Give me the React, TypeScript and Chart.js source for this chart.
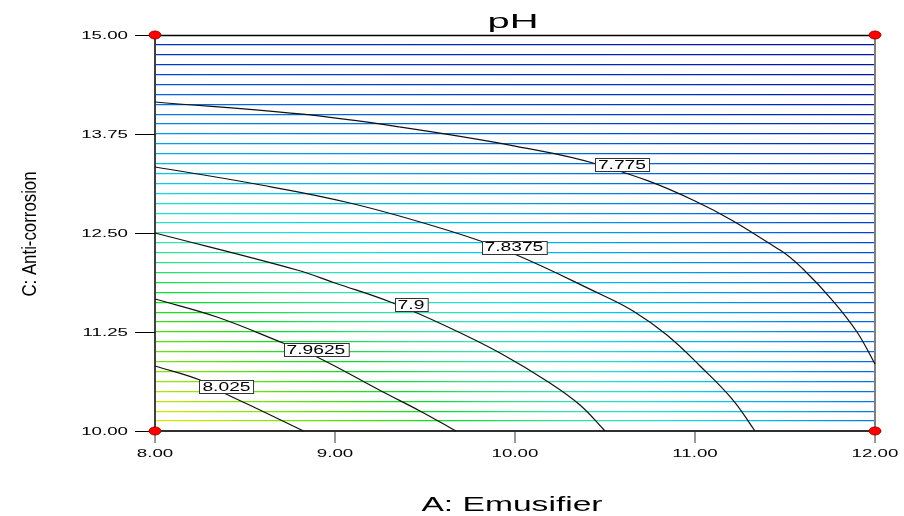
import React, { useEffect, useRef } from "react";
import { Chart, registerables } from "chart.js";

Chart.register(...registerables);

// ---- data ----
const xTicks = [8, 9, 10, 11, 12];
const yTicks = [10, 11.25, 12.5, 13.75, 15];

const contourLevels = [7.775, 7.8375, 7.9, 7.9625, 8.025];
const levelText = ["7.775", "7.8375", "7.9", "7.9625", "8.025"];

const c7775X = [8.0, 8.806, 9.361, 10.0, 10.472, 11.0, 11.472, 11.6, 11.767, 11.9, 12.0];
const c7775Y = [14.154, 14.003, 13.838, 13.598, 13.359, 12.904, 12.285, 12.045, 11.641, 11.25, 10.846];

const c78375X = [8.0, 8.528, 9.083, 9.639, 9.983, 10.472, 10.656, 10.844, 11.028, 11.211, 11.333];
const c78375Y = [13.333, 13.131, 12.879, 12.525, 12.247, 11.73, 11.515, 11.212, 10.821, 10.391, 10.0];

const c79X = [8.0, 8.789, 9.0, 9.322, 9.639, 9.917, 10.194, 10.361, 10.5];
const c79Y = [12.5, 12.033, 11.869, 11.616, 11.301, 10.985, 10.606, 10.328, 10.0];

const c79625X = [8.0, 8.344, 8.711, 8.9, 9.267, 9.472, 9.672];
const c79625Y = [11.667, 11.439, 11.111, 10.934, 10.492, 10.253, 10.0];

const c8025X = [8.0, 8.25, 8.372, 8.583, 8.825];
const c8025Y = [10.821, 10.644, 10.492, 10.265, 10.0];

const contourXs = [c7775X, c78375X, c79X, c79625X, c8025X];
const contourYs = [c7775Y, c78375Y, c79Y, c79625Y, c8025Y];

const labelX = [10.594, 9.994, 9.422, 8.894, 8.397];
const labelY = [13.359, 12.323, 11.591, 11.029, 10.562];

const designX = [8, 12, 8, 12];
const designY = [15, 15, 10, 10];

// colour ramp (pH -> rgb), styling only
const rampPH = [7.68, 7.74, 7.775, 7.8375, 7.87, 7.9, 7.93, 7.955, 7.99, 8.03, 8.07];
const rampRGB = [
  [0, 20, 170],
  [0, 60, 210],
  [0, 110, 230],
  [0, 195, 240],
  [20, 225, 220],
  [50, 228, 180],
  [40, 226, 120],
  [0, 225, 40],
  [60, 230, 0],
  [140, 230, 0],
  [220, 230, 0],
];

// ---- helpers ----
const norm = (x: number, y: number) => [(x - 8) / 4, (y - 10) / 5];

function rayHit(xs: number[], ys: number[], ang: number): number | null {
  const dx = Math.cos(ang), dy = Math.sin(ang);
  for (let i = 0; i < xs.length - 1; i++) {
    const [ax, ay] = norm(xs[i], ys[i]);
    const [bx, by] = norm(xs[i + 1], ys[i + 1]);
    const ex = bx - ax, ey = by - ay;
    const det = -dx * ey + ex * dy;
    if (Math.abs(det) < 1e-12) continue;
    const t = (-ax * ey + ex * ay) / det;
    const s = (dx * ay - dy * ax) / det;
    if (s >= -1e-9 && s <= 1 + 1e-9 && t > 0) return t;
  }
  return null;
}

function estimatePH(u: number, v: number): number {
  const r = Math.hypot(u, v);
  if (r < 1e-6) return 8.07;
  const ang = Math.atan2(v, u);
  const hits: { r: number; lv: number }[] = [];
  for (let k = 0; k < contourLevels.length; k++) {
    const h = rayHit(contourXs[k], contourYs[k], ang);
    if (h !== null) hits.push({ r: h, lv: contourLevels[k] });
  }
  hits.sort((a, b) => a.r - b.r);
  if (hits.length < 2) return 7.8;
  if (r <= hits[0].r) {
    const slope = (hits[0].lv - hits[1].lv) / (hits[1].r - hits[0].r);
    return hits[0].lv + (hits[0].r - r) * slope;
  }
  for (let i = 0; i < hits.length - 1; i++) {
    if (r <= hits[i + 1].r) {
      const f = (r - hits[i].r) / (hits[i + 1].r - hits[i].r);
      return hits[i].lv + f * (hits[i + 1].lv - hits[i].lv);
    }
  }
  const n = hits.length;
  const slope = (hits[n - 2].lv - hits[n - 1].lv) / (hits[n - 1].r - hits[n - 2].r);
  return hits[n - 1].lv - (r - hits[n - 1].r) * slope;
}

function colorFor(ph: number): string {
  if (ph <= rampPH[0]) return `rgb(${rampRGB[0].join(",")})`;
  const last = rampPH.length - 1;
  if (ph >= rampPH[last]) return `rgb(${rampRGB[last].join(",")})`;
  for (let i = 0; i < last; i++) {
    if (ph <= rampPH[i + 1]) {
      const f = (ph - rampPH[i]) / (rampPH[i + 1] - rampPH[i]);
      const c = rampRGB[i].map((a, j) => Math.round(a + f * (rampRGB[i + 1][j] - a)));
      return `rgb(${c.join(",")})`;
    }
  }
  return "#000";
}

function stretchText(
  ctx: CanvasRenderingContext2D,
  text: string,
  x: number,
  y: number,
  font: string,
  sx: number,
  align: "left" | "center" | "right",
  baseline: CanvasTextBaseline
) {
  ctx.save();
  ctx.font = font;
  ctx.fillStyle = "#000";
  ctx.textAlign = "left";
  ctx.textBaseline = baseline;
  const w = ctx.measureText(text).width * sx;
  const x0 = align === "center" ? x - w / 2 : align === "right" ? x - w : x;
  ctx.translate(x0, y);
  ctx.scale(sx, 1);
  ctx.fillText(text, 0, 0);
  ctx.restore();
}

function makeEllipse(): HTMLCanvasElement {
  const c = document.createElement("canvas");
  c.width = 14;
  c.height = 10;
  const g = c.getContext("2d")!;
  g.beginPath();
  g.ellipse(7, 5, 6, 4, 0, 0, Math.PI * 2);
  g.fillStyle = "#ff0000";
  g.fill();
  g.lineWidth = 1;
  g.strokeStyle = "#a00000";
  g.stroke();
  return c;
}

const FONT = '"Liberation Sans", Arial, sans-serif';

const decorPlugin = {
  id: "decor",
  beforeDatasetsDraw(chart: any) {
    const ctx: CanvasRenderingContext2D = chart.ctx;
    const xs = chart.scales.x, ys = chart.scales.y;
    const L = xs.getPixelForValue(8), R = xs.getPixelForValue(12);
    const T = ys.getPixelForValue(15), B = ys.getPixelForValue(10);
    ctx.save();
    ctx.strokeStyle = "#000";
    ctx.lineWidth = 1.5;
    ctx.beginPath();
    ctx.moveTo(L, T + 0.5);
    ctx.lineTo(R, T + 0.5);
    ctx.stroke();
    ctx.strokeStyle = "#808080";
    ctx.lineWidth = 2;
    ctx.beginPath();
    ctx.moveTo(R, T);
    ctx.lineTo(R, B);
    ctx.stroke();
    ctx.strokeStyle = "#404040";
    ctx.lineWidth = 2;
    ctx.beginPath();
    ctx.moveTo(L, T);
    ctx.lineTo(L, B + 1);
    ctx.stroke();
    ctx.strokeStyle = "#303030";
    ctx.lineWidth = 2;
    ctx.beginPath();
    ctx.moveTo(L, B);
    ctx.lineTo(R, B);
    ctx.stroke();
    ctx.strokeStyle = "#000";
    ctx.lineWidth = 1;
    for (const v of yTicks) {
      const py = Math.round(ys.getPixelForValue(v)) + 0.5;
      ctx.beginPath();
      ctx.moveTo(L - 20, py);
      ctx.lineTo(L, py);
      ctx.stroke();
      stretchText(ctx, v.toFixed(2), L - 27, py, `11px ${FONT}`, 1.7, "right", "middle");
    }
    ctx.strokeStyle = "#777";
    ctx.lineWidth = 1.5;
    for (const v of xTicks) {
      const px = xs.getPixelForValue(v);
      ctx.beginPath();
      ctx.moveTo(px, B + 1);
      ctx.lineTo(px, B + 12);
      ctx.stroke();
      stretchText(ctx, v.toFixed(2), px, B + 23, `11px ${FONT}`, 1.7, "center", "middle");
    }
    stretchText(ctx, "pH", (L + R) / 2 - 2, 28, `21px ${FONT}`, 1.9, "center", "alphabetic");
    stretchText(ctx, "A: Emusifier", 512, 511, `21px ${FONT}`, 1.6, "center", "alphabetic");
    ctx.save();
    ctx.translate(30, 234);
    ctx.rotate(-Math.PI / 2);
    stretchText(ctx, "C: Anti-corrosion", 0, 0, `20px ${FONT}`, 0.84, "center", "middle");
    ctx.restore();
    ctx.restore();
  },
  afterDatasetsDraw(chart: any) {
    const ctx: CanvasRenderingContext2D = chart.ctx;
    const xs = chart.scales.x, ys = chart.scales.y;
    ctx.save();
    const sx = 1.6;
    for (let i = 0; i < levelText.length; i++) {
      const cx = xs.getPixelForValue(labelX[i]);
      const cy = ys.getPixelForValue(labelY[i]);
      ctx.font = `12px ${FONT}`;
      const w = ctx.measureText(levelText[i]).width * sx + 6;
      const h = 13;
      const bx = Math.round(cx - w / 2) + 0.5;
      const by = Math.round(cy - h / 2) + 0.5;
      ctx.fillStyle = "#fff";
      ctx.fillRect(bx, by, w, h);
      ctx.strokeStyle = "#333";
      ctx.lineWidth = 1;
      ctx.strokeRect(bx, by, w, h);
      stretchText(ctx, levelText[i], cx, cy + 1, `12px ${FONT}`, sx, "center", "middle");
    }
    ctx.restore();
  },
};

export default function App() {
  const ref = useRef<HTMLCanvasElement | null>(null);
  useEffect(() => {
    if (!ref.current) return;
    const ellipse = makeEllipse();
    const gradCache = new Map<number, CanvasGradient>();

    const contourSets = contourLevels.map((lv, k) => ({
      type: "line" as const,
      label: levelText[k],
      data: contourXs[k].map((x, i) => ({ x, y: contourYs[k][i] })),
      borderColor: "#111",
      borderWidth: 1.2,
      pointRadius: 0,
      fill: false,
      tension: 0.4,
      clip: false as const,
    }));

    const chart = new Chart(ref.current, {
      type: "scatter",
      data: {
        datasets: [
          {
            type: "scatter" as const,
            label: "design points",
            data: designX.map((x, i) => ({ x, y: designY[i] })),
            pointStyle: ellipse as any,
            pointRadius: 6,
            clip: false as any,
          },
          ...contourSets,
        ] as any,
      },
      options: {
        animation: false,
        responsive: false,
        events: [],
        layout: { padding: { left: 155, right: 29, top: 35, bottom: 85 } },
        plugins: { legend: { display: false }, tooltip: { enabled: false }, title: { display: false } },
        scales: {
          x: { type: "linear", min: 8, max: 12, display: false },
          y: {
            type: "linear",
            min: 10,
            max: 15,
            display: true,
            border: { display: false },
            ticks: { display: false, stepSize: 0.125 },
            title: { display: false },
            grid: {
              drawTicks: false,
              lineWidth: 1.3,
              color: (c: any) => {
                const v = c.tick ? c.tick.value : undefined;
                if (v === undefined) return "rgba(0,0,0,0)";
                if (v >= 15 - 1e-9) return "rgba(0,0,0,0)";
                if (v <= 10 + 1e-9) return "rgba(0,0,0,0)";
                const key = Math.round(v * 1000);
                if (gradCache.has(key)) return gradCache.get(key);
                const area = c.chart.chartArea;
                const g = c.chart.ctx.createLinearGradient(area.left, 0, area.right, 0);
                const N = 60;
                for (let i = 0; i <= N; i++) {
                  const xv = 8 + (4 * i) / N;
                  const [u, w] = norm(xv, v);
                  g.addColorStop(i / N, colorFor(estimatePH(u, w)));
                }
                gradCache.set(key, g);
                return g;
              },
            },
          },
        },
      },
      plugins: [decorPlugin],
    });
    return () => chart.destroy();
  }, []);

  return (
    <div style={{ position: "fixed", left: 0, top: 0, width: 904, height: 516, background: "#fff" }}>
      <canvas ref={ref} width={904} height={516} style={{ display: "block" }} />
    </div>
  );
}
